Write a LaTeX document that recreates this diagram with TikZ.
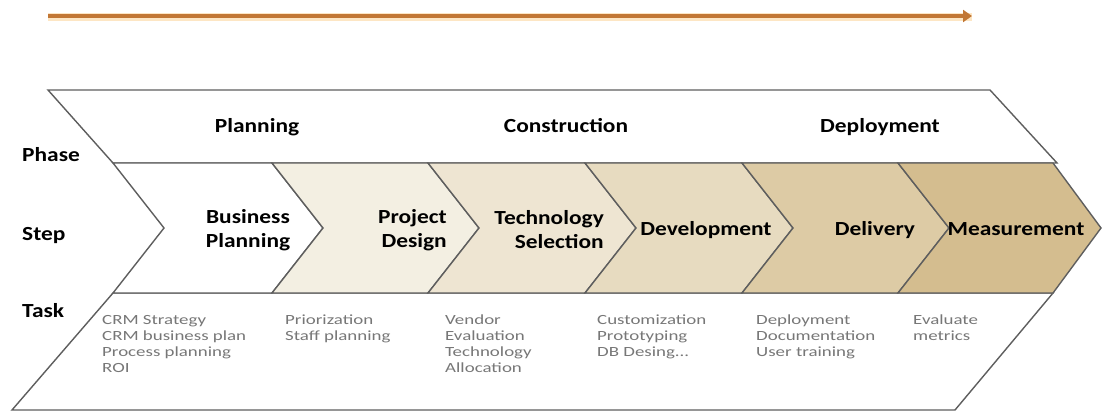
\documentclass[tikz,border=0pt]{standalone}
\usepackage{fontspec}
\setmainfont{Carlito}
\newfontfamily\lblfont[FakeStretch=1.17]{Carlito}
\newfontfamily\taskfont[FakeStretch=1.35]{Carlito}
\usetikzlibrary{arrows.meta}
\definecolor{arrowc}{HTML}{C27735}
\definecolor{glowc}{HTML}{FDE6C4}
\definecolor{edgec}{HTML}{5E5E5E}
\definecolor{taskgray}{HTML}{777777}
\definecolor{sa}{HTML}{FFFFFF}
\definecolor{sb}{HTML}{F3EFE2}
\definecolor{sc}{HTML}{EEE5D2}
\definecolor{sd}{HTML}{E7DBC0}
\definecolor{se}{HTML}{DDCBA5}
\definecolor{sf}{HTML}{D4BD8F}
\tikzset{
  edge/.style={draw=edgec, line width=1.4pt, line join=miter},
  lbl/.style={font=\lblfont\bfseries\fontsize{20}{24}\selectfont, text=black, inner sep=0pt},
  tsk/.style={font=\taskfont\fontsize{14}{16}\selectfont, text=taskgray, align=left, anchor=north west, inner sep=0pt},
}
\begin{document}
\begin{tikzpicture}[x=1pt,y=-1pt]
\useasboundingbox (0,0) rectangle (1102,414);
% timeline arrow
\coordinate (arrs) at (48,16);
\coordinate (arre) at (972,16);
\draw[glowc, line width=8pt] ([yshift=-1pt]arrs) -- ([yshift=-1pt]arre);
\draw[arrowc, line width=4.5pt, -{Triangle[length=9pt,width=12pt]}] (arrs) -- (arre);
% phase band
\draw[edge, fill=white] (48,90) -- (990,90) -- (1057,163) -- (113,163) -- cycle;
% task band
\draw[edge, fill=white] (113,293) -- (1053,293) -- (955,410) -- (12,410) -- cycle;
% step chevrons
\foreach \a/\b/\c/\d in {113/272/sa/51, 272/428/sb/51, 428/585/sc/51, 585/742/sd/51, 742/898/se/51, 898/1053/sf/48}
  \draw[edge, fill=\c] (\a,163) -- (\b,163) -- ({\b+\d},228) -- (\b,293) -- (\a,293) -- ({\a+51},228) -- cycle;
% row labels
\node[lbl, anchor=base west] (phase) at (22,162) {Phase};
\node[lbl, anchor=base west] (step) at (22,240) {Step};
\node[lbl, anchor=base west] (task) at (22,317) {Task};
% phase labels
\node[lbl, anchor=base] (pplan) at (257,133) {Planning};
\node[lbl, anchor=base] (pcons) at (566,133) {Construction};
\node[lbl, anchor=base] (pdepl) at (880,133) {Deployment};
% step labels
\node[lbl, align=center] (s1) at (248,230) {Business\\Planning};
\node[lbl, align=right, anchor=east] (s2) at (447,230) {Project\\Design};
\node[lbl, align=right, anchor=east] (s3) at (604,230) {Technology\\Selection};
\node[lbl, anchor=base] (s4) at (706,235) {Development};
\node[lbl, anchor=base] (s5) at (875,235) {Delivery};
\node[lbl, anchor=base] (s6) at (1016,235) {Measurement};
% tasks
\node[tsk] (t1) at (102,315) {CRM Strategy\\CRM business plan\\Process planning\\ROI};
\node[tsk] (t2) at (285,315) {Priorization\\Staff planning};
\node[tsk] (t3) at (445,315) {Vendor\\Evaluation\\Technology\\Allocation};
\node[tsk] (t4) at (597,315) {Customization\\Prototyping\\DB Desing...};
\node[tsk] (t5) at (756,315) {Deployment\\Documentation\\User training};
\node[tsk] (t6) at (913,315) {Evaluate\\metrics};
\end{tikzpicture}
\end{document}
